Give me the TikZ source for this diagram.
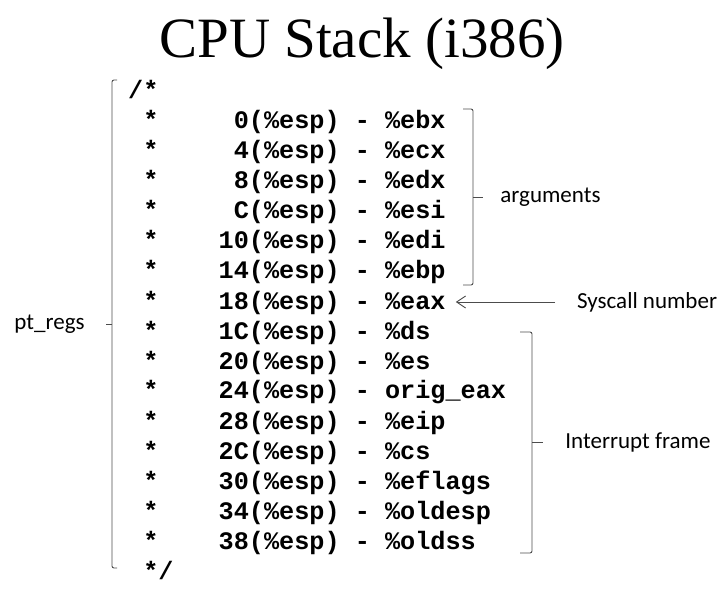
\documentclass[tikz,border=0pt]{standalone}
\usepackage{fontspec}
\setmainfont{Carlito}
\setmonofont{Liberation Mono}
\newfontfamily\titlefont{Liberation Serif}
\usetikzlibrary{arrows.meta,positioning,calc}
\newlength\cw
\setlength\cw{15.1pt}
\newcommand\regline[2]{\makebox[\cw]{}\makebox[\cw]{*}\makebox[6\cw][r]{#1}(\%esp)~-~#2}
\tikzset{code/.style={anchor=base west, inner sep=0pt, font=\ttfamily\bfseries\fontsize{25.2}{30}\selectfont}}
\tikzset{note/.style={inner sep=0pt, font=\fontsize{23}{26}\selectfont}}
\tikzset{brace/.style={draw=black!70, line width=0.9pt, rounded corners=2pt}}

\begin{document}
\begin{tikzpicture}[x=1pt, y=-1pt, >={Straight Barb[length=9pt,width=12pt]}]
\useasboundingbox (0,0) rectangle (724,591);
\node[inner sep=0pt, anchor=base, font=\titlefont\fontsize{57}{60}\selectfont] (title) at (362,58) {CPU Stack (i386)};

% the listing
\node[code] (r0) at (128,99) {/*};
\foreach \off/\reg [count=\i] in {0/\%ebx, 4/\%ecx, 8/\%edx, C/\%esi, 10/\%edi, 14/\%ebp,
    18/\%eax, 1C/\%ds, 20/\%es, 24/orig\_eax, 28/\%eip, 2C/\%cs, 30/\%eflags, 34/\%oldesp, 38/\%oldss}
  \node[code] (r\i) at (128,99+30*\i) {\regline{\off}{\reg}};
\node[code] (r16) at (128,579) {\makebox[\cw]{}*/};

% pt_regs
\coordinate (lt) at (112,80);
\coordinate (lb) at (112,568);
\draw[brace] ([xshift=5pt]lt) -- (lt) -- (lb) -- ([xshift=5pt]lb);
\draw[brace] ($(lt)!0.5!(lb)$) -- ++(-6,0) node[note, left=21pt] (ptregs) {pt\_regs};

% arguments
\coordinate (at) at (473,109);
\coordinate (ab) at (473,285);
\draw[brace] ([xshift=-10pt]at) -- (at) -- (ab) -- ([xshift=-10pt]ab);
\draw[brace] ($(at)!0.5!(ab)$) -- ++(10,0) node[note, right=17pt] (args) {arguments};

% syscall number
\node[note, anchor=west] (syscall) at (577,302) {Syscall number};
\draw[->, draw=black!70, line width=0.9pt, shorten >=10pt] ([xshift=-22pt]syscall.west) -- (syscall.west -| r7.east);

% interrupt frame
\coordinate (it) at (532,332);
\coordinate (ib) at (532,553);
\draw[brace] ([xshift=-12pt]it) -- (it) -- (ib) -- ([xshift=-12pt]ib);
\draw[brace] ($(it)!0.5!(ib)$) -- ++(11,0) node[note, right=22pt] (irq) {Interrupt frame};
\end{tikzpicture}
\end{document}
